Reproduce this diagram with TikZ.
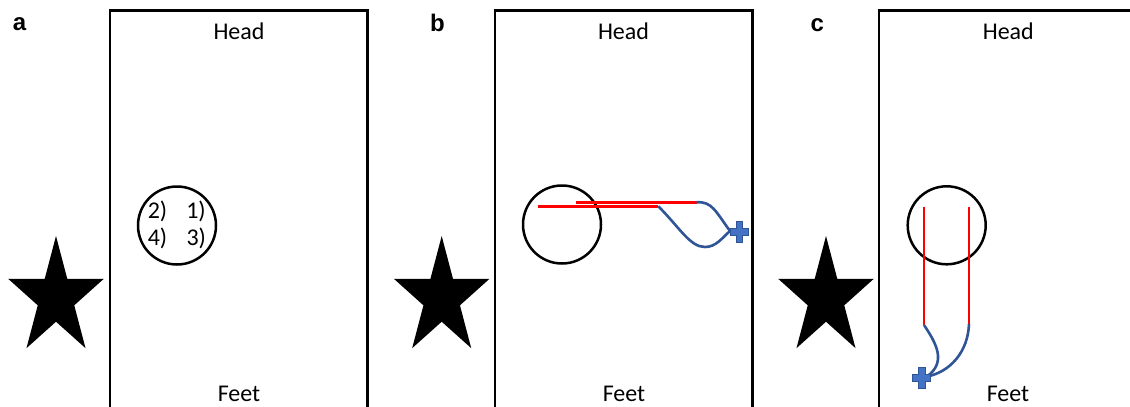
\documentclass[tikz,border=0pt]{standalone}
\usepackage{fontspec}
\setmainfont{Carlito}
\newfontfamily\panelfont{Liberation Sans}
\definecolor{wireblue}{HTML}{2F5597}
\definecolor{plusblue}{HTML}{4472C4}
\definecolor{wirered}{HTML}{FF0000}
\tikzset{
  frame/.style={draw=black, line width=2.6pt},
  ring/.style={circle, draw=black, line width=2.5pt, minimum size=78pt, inner sep=0pt},
  side/.style={font=\fontsize{24}{28}\selectfont, anchor=base, inner sep=0pt},
  num/.style={font=\fontsize{24}{28}\selectfont, inner sep=0pt},
  panel/.style={font=\panelfont\bfseries\fontsize{24}{28}\selectfont, anchor=base, inner sep=0pt},
  redwire/.style={draw=wirered, line width=2.8pt},
  bluewire/.style={draw=wireblue, line width=2.6pt},
  bigstar/.pic={
    \fill[black, xscale=0.81, yscale=-1] (90:62)
      \foreach \a/\r in {126/23.7,162/62,198/23.7,234/62,270/23.7,306/62,342/23.7,18/62,54/23.7} { -- (\a:\r) } -- cycle;
  },
  plusmark/.pic={
    \fill[plusblue, draw=wireblue, line width=0.6pt]
      (-3.3,-10.5) -- (3.3,-10.5) -- (3.3,-3.3) -- (9,-3.3) -- (9,3.3) -- (3.3,3.3) -- (3.3,10.5)
      -- (-3.3,10.5) -- (-3.3,3.3) -- (-9,3.3) -- (-9,-3.3) -- (-3.3,-3.3) -- cycle;
  }
}
\begin{document}
\begin{tikzpicture}[x=1pt, y=-1pt]
\useasboundingbox (0,0) rectangle (1130,407);
\clip (0,0) rectangle (1130,407);
\fill[white] (0,0) rectangle (1130,407);

% ---------- panel a ----------
\node[panel] (la) at (19.5,30) {a};
\draw[frame] (110,10.7) rectangle (367.5,430);
\node[side] (heada) at (239,39) {Head};
\node[side] (feeta) at (239,401) {Feet};
\pic at (56,298) {bigstar};
\node[ring] (ca) at (177,225.5) {};
\node[num] (n2) at (157.5,211.3) {2)};
\node[num] (n1) at (196,211.3) {1)};
\node[num] (n4) at (157.5,238.3) {4)};
\node[num] (n3) at (196.3,238.3) {3)};

% ---------- panel b ----------
\node[panel] (lb) at (437.5,31) {b};
\draw[frame] (495,10.7) rectangle (752.3,430);
\node[side] (headb) at (623.5,39) {Head};
\node[side] (feetb) at (624,401) {Feet};
\pic at (441.7,298) {bigstar};
\node[ring] (cb) at (562,224.5) {};
\coordinate (b1s) at (538.3,206.3);
\coordinate (b1e) at (658.3,206.3);
\coordinate (b2s) at (576,202.3);
\coordinate (b2e) at (696.5,202.3);
\coordinate (pb) at (739.3,231.7);
\coordinate (pbin) at (730,231);
\draw[redwire] (b1s) -- (b1e);
\draw[redwire] (b2s) -- (b2e);
\draw[bluewire] (b1e) .. controls (680,228) and (690,247) .. (705,247) .. controls (716,247) and (722,238) .. (pbin);
\draw[bluewire] (b2e) .. controls (712,201) and (716,212) .. (pbin);
\pic at (pb) {plusmark};

% ---------- panel c ----------
\node[panel] (lc) at (817.3,31) {c};
\draw[frame] (879,10.7) rectangle (1137,430);
\node[side] (headc) at (1008.3,39) {Head};
\node[side] (feetc) at (1008,401) {Feet};
\pic at (826,298) {bigstar};
\node[ring] (cc) at (946.7,225.3) {};
\coordinate (c1s) at (924,206.7);
\coordinate (c1e) at (924,325);
\coordinate (c2s) at (969,206.7);
\coordinate (c2e) at (969,324);
\coordinate (pc) at (921.7,377.7);
\coordinate (pcin) at (927,376.5);
\draw[redwire] (c1s) -- (c1e);
\draw[redwire] (c2s) -- (c2e);
\draw[bluewire] (c1e) .. controls (936,343) and (947,362) .. (pcin);
\draw[bluewire] (c2e) .. controls (968,352) and (950,372) .. (pcin);
\pic at (pc) {plusmark};
\end{tikzpicture}
\end{document}
